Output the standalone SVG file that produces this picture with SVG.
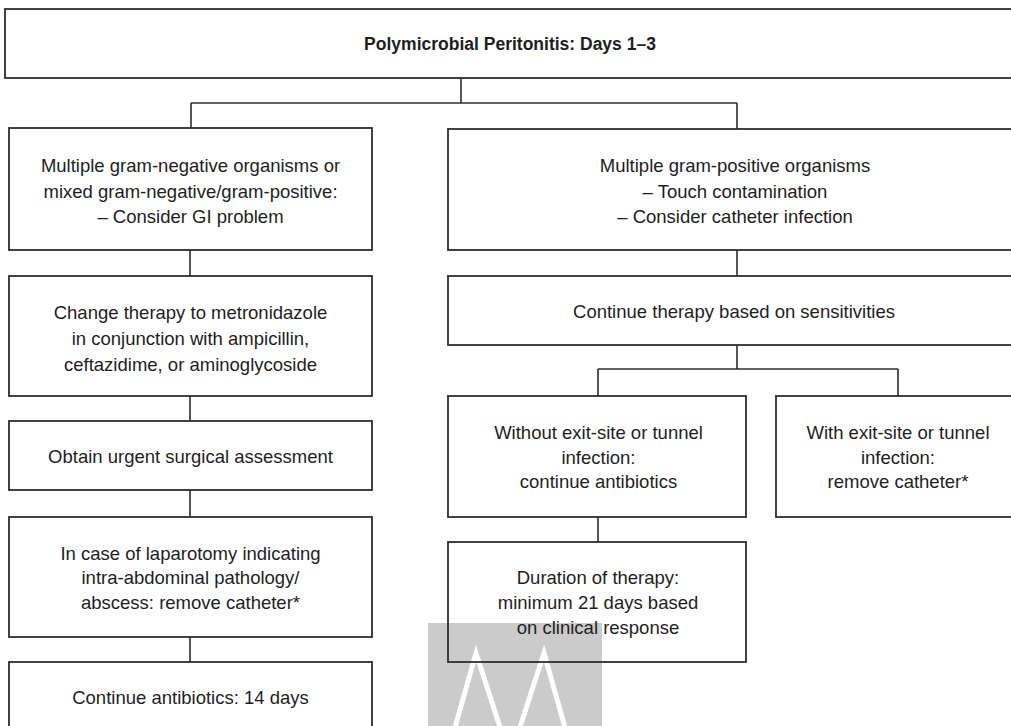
<svg xmlns="http://www.w3.org/2000/svg" width="1011" height="726" viewBox="0 0 1011 726">
<style>
.box{fill:none;stroke:#2e2e2e;stroke-width:1.8}
.ln{fill:none;stroke:#2e2e2e;stroke-width:1.6}
text{font-family:"Liberation Sans",Arial,sans-serif;font-size:18.5px;fill:#1e1e1e;text-anchor:middle}
.title{font-weight:bold;font-size:17.5px}
</style>
<rect x="0" y="0" width="1011" height="726" fill="#ffffff"/>
<g id="watermark">
<rect x="428" y="623" width="174" height="110" fill="#cbcbcb"/>
<polyline points="452,738 476,653 510,758 544,653 568,738" fill="none" stroke="#ffffff" stroke-width="5"/>
</g>
<g id="connectors">
<path class="ln" d="M461,78V103M191,103H737M191,103V128M737,103V129"/>
<path class="ln" d="M190,250V276M190,396V421M190,490V517M190,637V662"/>
<path class="ln" d="M737,250V276M737,345V369M598,369H898M598,369V396M898,369V396M598,517V542"/>
</g>
<g id="title">
<rect class="box" x="5" y="9" width="1015" height="69"/>
<text class="title" x="510" y="50">Polymicrobial Peritonitis: Days 1–3</text>
</g>
<g id="gram-negative">
<rect class="box" x="9" y="128" width="363" height="122"/>
<text x="190.5" y="172">Multiple gram-negative organisms or</text>
<text x="190.5" y="197.5">mixed gram-negative/gram-positive:</text>
<text x="190.5" y="223">– Consider GI problem</text>
</g>
<g id="gram-positive">
<rect class="box" x="448" y="129" width="570" height="121"/>
<text x="735" y="172">Multiple gram-positive organisms</text>
<text x="735" y="197.5">– Touch contamination</text>
<text x="735" y="223">– Consider catheter infection</text>
</g>
<g id="change-therapy">
<rect class="box" x="9" y="276" width="363" height="120"/>
<text x="190.5" y="319">Change therapy to metronidazole</text>
<text x="190.5" y="345">in conjunction with ampicillin,</text>
<text x="190.5" y="370.5">ceftazidime, or aminoglycoside</text>
</g>
<g id="continue-therapy">
<rect class="box" x="448" y="276" width="570" height="69"/>
<text x="734" y="318">Continue therapy based on sensitivities</text>
</g>
<g id="surgical">
<rect class="box" x="9" y="421" width="363" height="69"/>
<text x="190.5" y="463">Obtain urgent surgical assessment</text>
</g>
<g id="laparotomy">
<rect class="box" x="9" y="517" width="363" height="120"/>
<text x="190.5" y="560">In case of laparotomy indicating</text>
<text x="190.5" y="584">intra-abdominal pathology/</text>
<text x="190.5" y="608.5">abscess: remove catheter*</text>
</g>
<g id="antibiotics-14">
<rect class="box" x="9" y="662" width="363" height="90"/>
<text x="190.5" y="704">Continue antibiotics: 14 days</text>
</g>
<g id="without-exit">
<rect class="box" x="448" y="396" width="298" height="121"/>
<text x="598.5" y="439">Without exit-site or tunnel</text>
<text x="598.5" y="463.5">infection:</text>
<text x="598.5" y="488">continue antibiotics</text>
</g>
<g id="with-exit">
<rect class="box" x="776" y="396" width="242" height="121"/>
<text x="898" y="439">With exit-site or tunnel</text>
<text x="898" y="463.5">infection:</text>
<text x="898" y="488">remove catheter*</text>
</g>
<g id="duration">
<rect class="box" x="448" y="542" width="298" height="120"/>
<text x="598" y="584">Duration of therapy:</text>
<text x="598" y="609">minimum 21 days based</text>
<text x="598" y="634">on clinical response</text>
</g>
</svg>
